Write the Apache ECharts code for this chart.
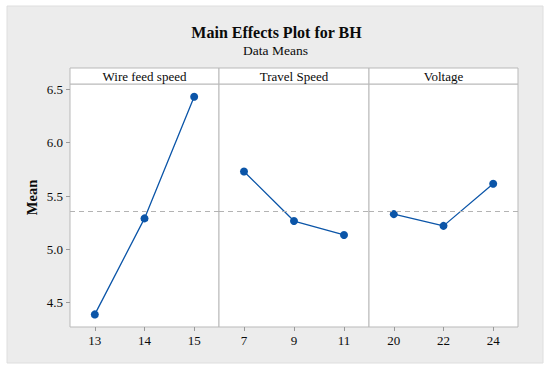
<!DOCTYPE html>
<html>
<head>
<meta charset="utf-8">
<script src="https://cdn.jsdelivr.net/npm/echarts@6/dist/echarts.min.js"></script>
<style>
html,body{margin:0;padding:0;background:#fff;}
#chart{width:550px;height:370px;}
</style>
</head>
<body>
<div id="chart"></div>
<script>
// ---- data ----
const titleText = 'Main Effects Plot for BH';
const subtitleText = 'Data Means';
const yAxisTitle = 'Mean';
const panelNames = ['Wire feed speed', 'Travel Speed', 'Voltage'];
const wireFeedLevels = [13, 14, 15];
const wireFeedMeans = [4.39, 5.29, 6.43];
const travelSpeedLevels = [7, 9, 11];
const travelSpeedMeans = [5.73, 5.265, 5.135];
const voltageLevels = [20, 22, 24];
const voltageMeans = [5.33, 5.22, 5.615];
const overallMean = 5.355;
const yTickValues = [4.5, 5.0, 5.5, 6.0, 6.5];
const yMin = 4.272, yMax = 6.55;

const levelsList = [wireFeedLevels, travelSpeedLevels, voltageLevels];
const meansList = [wireFeedMeans, travelSpeedMeans, voltageMeans];

const FONT = 'Liberation Serif';
const BLUE = '#0b55a8';
const BORDER = '#b9b9b9';
const TEXT = '#0a0a0a';

const panelLefts = [70, 219, 369];
const panelRights = [331, 181, 32];
const gridTop = 84, gridBottom = 43;

const grids = [], xAxes = [], yAxes = [], series = [];
for (let i = 0; i < 3; i++) {
  const lv = levelsList[i];
  const step = lv[1] - lv[0];
  grids.push({left: panelLefts[i], right: panelRights[i], top: gridTop, bottom: gridBottom,
    show: true, backgroundColor: '#fff', borderColor: BORDER, borderWidth: 1, containLabel: false});
  xAxes.push({type: 'value', gridIndex: i, min: lv[0] - step / 2, max: lv[lv.length - 1] + step / 2,
    splitLine: {show: false}, axisLine: {show: false},
    axisTick: {show: true, length: 4, lineStyle: {color: '#9a9a9a'}, customValues: lv},
    axisLabel: {show: true, customValues: lv, margin: 7, fontFamily: FONT, fontSize: 13, color: TEXT}});
  yAxes.push({type: 'value', gridIndex: i, min: yMin, max: yMax,
    splitLine: {show: false}, axisLine: {show: false},
    axisTick: {show: i === 0, length: 4, lineStyle: {color: '#9a9a9a'}, customValues: yTickValues},
    axisLabel: {show: i === 0, customValues: yTickValues, margin: 7, fontFamily: FONT, fontSize: 13, color: TEXT,
      formatter: v => Number(v).toFixed(1)}});
  series.push({type: 'line', xAxisIndex: i, yAxisIndex: i,
    data: lv.map((x, k) => [x, meansList[i][k]]),
    symbol: 'circle', symbolSize: 8, showSymbol: true,
    lineStyle: {color: BLUE, width: 1.3}, itemStyle: {color: BLUE},
    animation: false,
    markLine: {silent: true, symbol: 'none', label: {show: false},
      lineStyle: {color: '#b3b3b3', width: 1, type: [5, 4]},
      data: [{yAxis: overallMean}], animation: false}});
}

const graphics = [
  {type: 'rect', z: -10, silent: true, shape: {x: 7, y: 6, width: 536, height: 357},
    style: {fill: '#ececec', stroke: '#dedede', lineWidth: 1}},
  {type: 'text', silent: true, x: 276.5, y: 32.5, style: {text: titleText, fontFamily: FONT, fontSize: 16, fontWeight: 'bold',
    fill: TEXT, textAlign: 'center', textVerticalAlign: 'middle'}},
  {type: 'text', silent: true, x: 275.5, y: 50.5, style: {text: subtitleText, fontFamily: FONT, fontSize: 13.5,
    fill: TEXT, textAlign: 'center', textVerticalAlign: 'middle'}},
  {type: 'text', silent: true, x: 32, y: 197.5, rotation: Math.PI / 2, style: {text: yAxisTitle, fontFamily: FONT, fontSize: 14.5,
    fontWeight: 'bold', fill: TEXT, textAlign: 'center', textVerticalAlign: 'middle'}}
];
const stripEdges = [70, 219, 369, 518];
for (let i = 0; i < 3; i++) {
  graphics.push({type: 'rect', silent: true, shape: {x: stripEdges[i], y: 68, width: stripEdges[i + 1] - stripEdges[i], height: 16},
    style: {fill: '#fff', stroke: BORDER, lineWidth: 1}});
  graphics.push({type: 'text', silent: true, x: (stripEdges[i] + stripEdges[i + 1]) / 2, y: 76.5,
    style: {text: panelNames[i], fontFamily: FONT, fontSize: 13, fill: TEXT, textAlign: 'center', textVerticalAlign: 'middle'}});
}

const chart = echarts.init(document.getElementById('chart'), null, {renderer: 'svg'});
chart.setOption({
  backgroundColor: '#fff',
  animation: false,
  grid: grids, xAxis: xAxes, yAxis: yAxes, series: series,
  graphic: graphics
});
</script>
</body>
</html>
